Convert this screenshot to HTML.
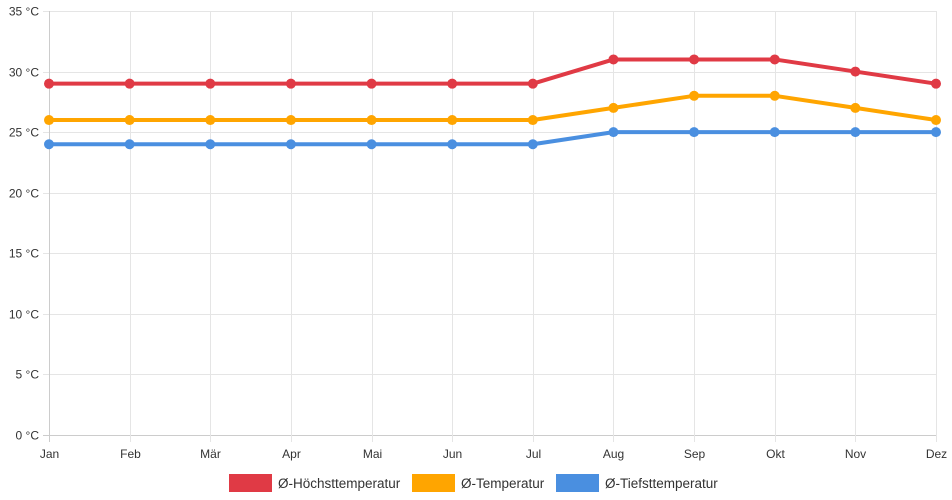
<!DOCTYPE html>
<html><head><meta charset="utf-8">
<style>
html,body{margin:0;padding:0;background:#fff;}
svg{display:block;font-family:"Liberation Sans",Arial,sans-serif;}
</style></head>
<body>
<svg id="chart" width="952" height="500" xmlns="http://www.w3.org/2000/svg">
<g id="grid"></g>
<g id="axes"></g>
<g id="series"></g>
<g id="legend"></g>
</svg>
<script>
const months = ["Jan","Feb","Mär","Apr","Mai","Jun","Jul","Aug","Sep","Okt","Nov","Dez"];
const highTemps = [29,29,29,29,29,29,29,31,31,31,30,29];
const avgTemps = [26,26,26,26,26,26,26,27,28,28,27,26];
const lowTemps = [24,24,24,24,24,24,24,25,25,25,25,25];
const yTicks = [0,5,10,15,20,25,30,35];
const seriesNames = ["Ø-Höchsttemperatur","Ø-Temperatur","Ø-Tiefsttemperatur"];

const NS="http://www.w3.org/2000/svg";
const X0=49,X1=936,Y0=435,Y1=11,YMAX=35;
function xPos(i){return X0+(X1-X0)*i/(months.length-1);}
function yPos(v){return Y0-(Y0-Y1)*v/YMAX;}
function mk(tag,attrs,parent){const e=document.createElementNS(NS,tag);for(const k in attrs)e.setAttribute(k,attrs[k]);parent.appendChild(e);return e;}

const grid=document.getElementById('grid'),axes=document.getElementById('axes'),series=document.getElementById('series'),legend=document.getElementById('legend');
yTicks.forEach(t=>{
  const y=Math.round(yPos(t))+0.5;
  const l=mk('line',{x1:X0-6,x2:X1,y1:y,y2:y,stroke:t===0?'#ccc':'#e5e5e5','stroke-width':1},grid);
  
  
  const tx=mk('text',{x:X0-10,y:y+4,'text-anchor':'end','font-size':12,fill:'#333'},axes);
  tx.textContent=t+' °C';
  
  
});
months.forEach((m,i)=>{
  const x=Math.round(xPos(i))+0.5;
  const l=mk('line',{x1:x,x2:x,y1:Y1,y2:Y0+7,stroke:i===0?'#ccc':'#e5e5e5','stroke-width':1},grid);
  
  
  const tx=mk('text',{x:x,y:Y0+23,'text-anchor':'middle','font-size':12,fill:'#333'},axes);
  tx.textContent=m;
  
  
});
const data=[highTemps,avgTemps,lowTemps];
const colors=["#e03a45","#ffa500","#4a8fe0"];
const keys=["high","avg","low"];
data.forEach((arr,s)=>{
  const g=mk('g',{},series);
  
  
  const pts=arr.map((v,i)=>xPos(i)+','+yPos(v)).join(' ');
  const pl=mk('polyline',{points:pts,fill:'none',stroke:colors[s],'stroke-width':4,'stroke-linejoin':'round'},g);
  
  
  arr.forEach((v,i)=>{
    const c=mk('circle',{cx:xPos(i),cy:yPos(v),r:5,fill:colors[s]},g);
    
    
  });
});
const legX=[229,412,556];
seriesNames.forEach((n,s)=>{
  const g=mk('g',{},legend);
  
  
  mk('rect',{x:legX[s],y:474,width:43,height:18,fill:colors[s]},g);
  const t=mk('text',{x:legX[s]+49,y:488,'font-size':13.5,fill:'#333'},g);
  t.textContent=n;
});
</script>
</body></html>
